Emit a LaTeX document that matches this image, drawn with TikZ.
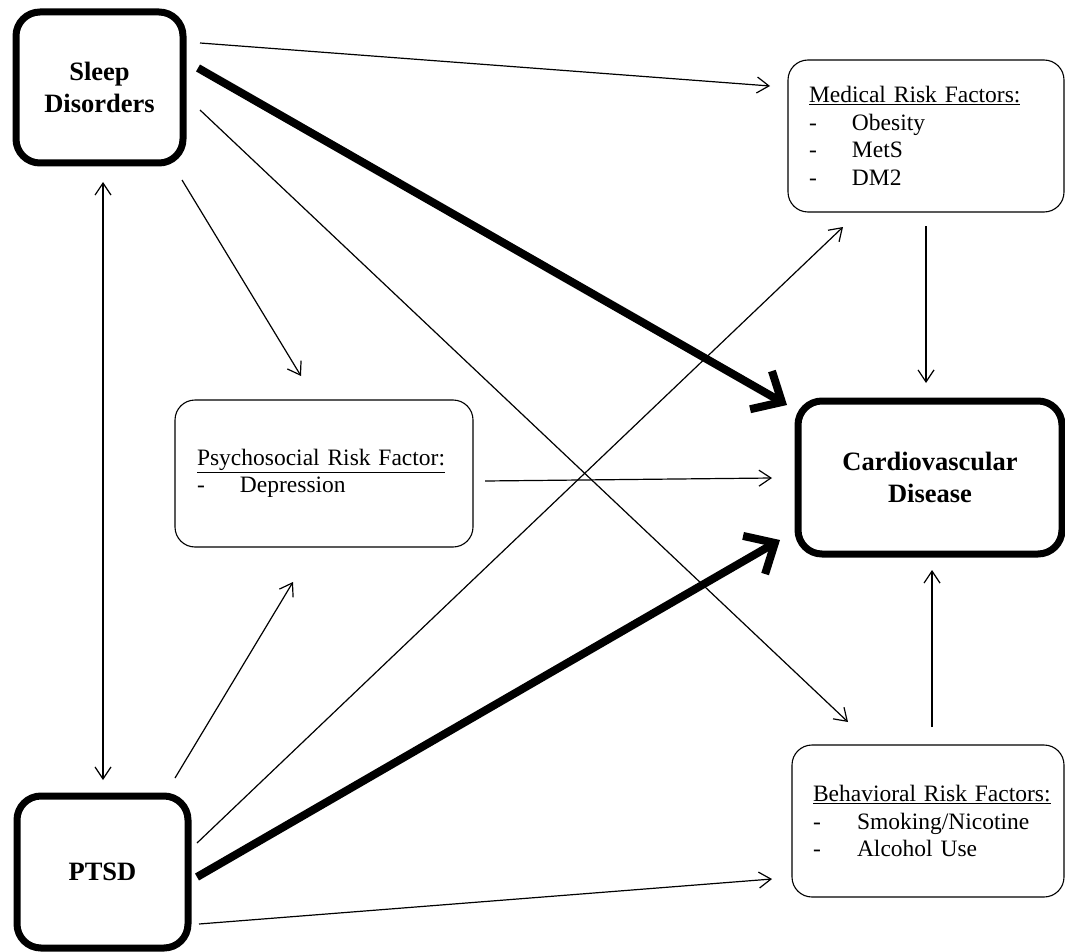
\documentclass[tikz,border=0pt]{standalone}
\usepackage{fontspec}
\setmainfont{Liberation Serif}
\usetikzlibrary{arrows.meta}
\begin{document}
\begin{tikzpicture}[x=1pt,y=-1pt,
  mainbox/.style={draw, line width=7pt, rounded corners=24pt, align=center,
    font=\bfseries\fontsize{26.5}{32}\selectfont, inner sep=0pt},
  riskbox/.style={draw, line width=1.1pt, rounded corners=20pt, align=left,
    font=\fontsize{23.5}{27.5}\selectfont, inner ysep=0pt, minimum height=152pt},
  thinarrow/.style={line width=1.2pt, -{Straight Barb[length=12pt,width=16pt]}},
  thinboth/.style={line width=1.2pt, {Straight Barb[length=12pt,width=16pt]}-{Straight Barb[length=12pt,width=16pt]}},
  thickarrow/.style={line width=8pt, -{Straight Barb[length=24pt,width=44pt]}},
]
\useasboundingbox (0,0) rectangle (1065,952);

% main boxes
\node[mainbox, minimum width=167pt, minimum height=151pt] (sleep) at (99.5,87.5) {Sleep\\Disorders};
\node[mainbox, minimum width=171pt, minimum height=152pt] (ptsd) at (102.5,872) {PTSD};
\node[mainbox, minimum width=264pt, minimum height=153pt] (cvd) at (930,477.5) {Cardiovascular\\Disease};

% risk factor boxes
\node[riskbox, inner xsep=21pt, text width=234pt] (med) at (926,136)
  {\underline{Medical Risk Factors:}\\
   \makebox[43pt][l]{-}Obesity\\
   \makebox[43pt][l]{-}MetS\\
   \makebox[43pt][l]{-}DM2};
\node[riskbox, inner xsep=21pt, text width=230pt] (beh) at (928,821)
  {\underline{Behavioral Risk Factors:}\\
   \makebox[44pt][l]{-}Smoking/Nicotine\\
   \makebox[44pt][l]{-}Alcohol Use};
\node[riskbox, inner xsep=22pt, text width=254pt, minimum height=147pt] (psy) at (324,473.5)
  {\underline{Psychosocial Risk Factor:}\\
   \makebox[43pt][l]{-}Depression};

% connector end points
\coordinate (sMedS) at (200,43);   \coordinate (sMedE) at (770,86);
\coordinate (sCvdS) at (198,68);   \coordinate (sCvdE) at (787,405);
\coordinate (sBehS) at (200,110);  \coordinate (sBehE) at (848,722);
\coordinate (sPsyS) at (182,180);  \coordinate (sPsyE) at (301,376);
\coordinate (sPtS)  at (103,182);  \coordinate (sPtE)  at (103,780);
\coordinate (mCvdS) at (926,226);  \coordinate (mCvdE) at (926,383);
\coordinate (yCvdS) at (485,481);  \coordinate (yCvdE) at (772,478);
\coordinate (pPsyS) at (175,778);  \coordinate (pPsyE) at (293,582);
\coordinate (pMedS) at (197,843);  \coordinate (pMedE) at (843,227);
\coordinate (pCvdS) at (197,877);  \coordinate (pCvdE) at (780,540);
\coordinate (pBehS) at (199,924);  \coordinate (pBehE) at (772,879);
\coordinate (bCvdS) at (932,727);  \coordinate (bCvdE) at (932,570);

% connectors
\draw[thinarrow] (sMedS) -- (sMedE);
\draw[thinarrow] (sBehS) -- (sBehE);
\draw[thinarrow] (sPsyS) -- (sPsyE);
\draw[thinboth] (sPtS) -- (sPtE);
\draw[thinarrow] (mCvdS) -- (mCvdE);
\draw[thinarrow] (yCvdS) -- (yCvdE);
\draw[thinarrow] (pPsyS) -- (pPsyE);
\draw[thinarrow] (pMedS) -- (pMedE);
\draw[thinarrow] (pBehS) -- (pBehE);
\draw[thinarrow] (bCvdS) -- (bCvdE);
\draw[thickarrow] (sCvdS) -- (sCvdE);
\draw[thickarrow] (pCvdS) -- (pCvdE);
\end{tikzpicture}
\end{document}
